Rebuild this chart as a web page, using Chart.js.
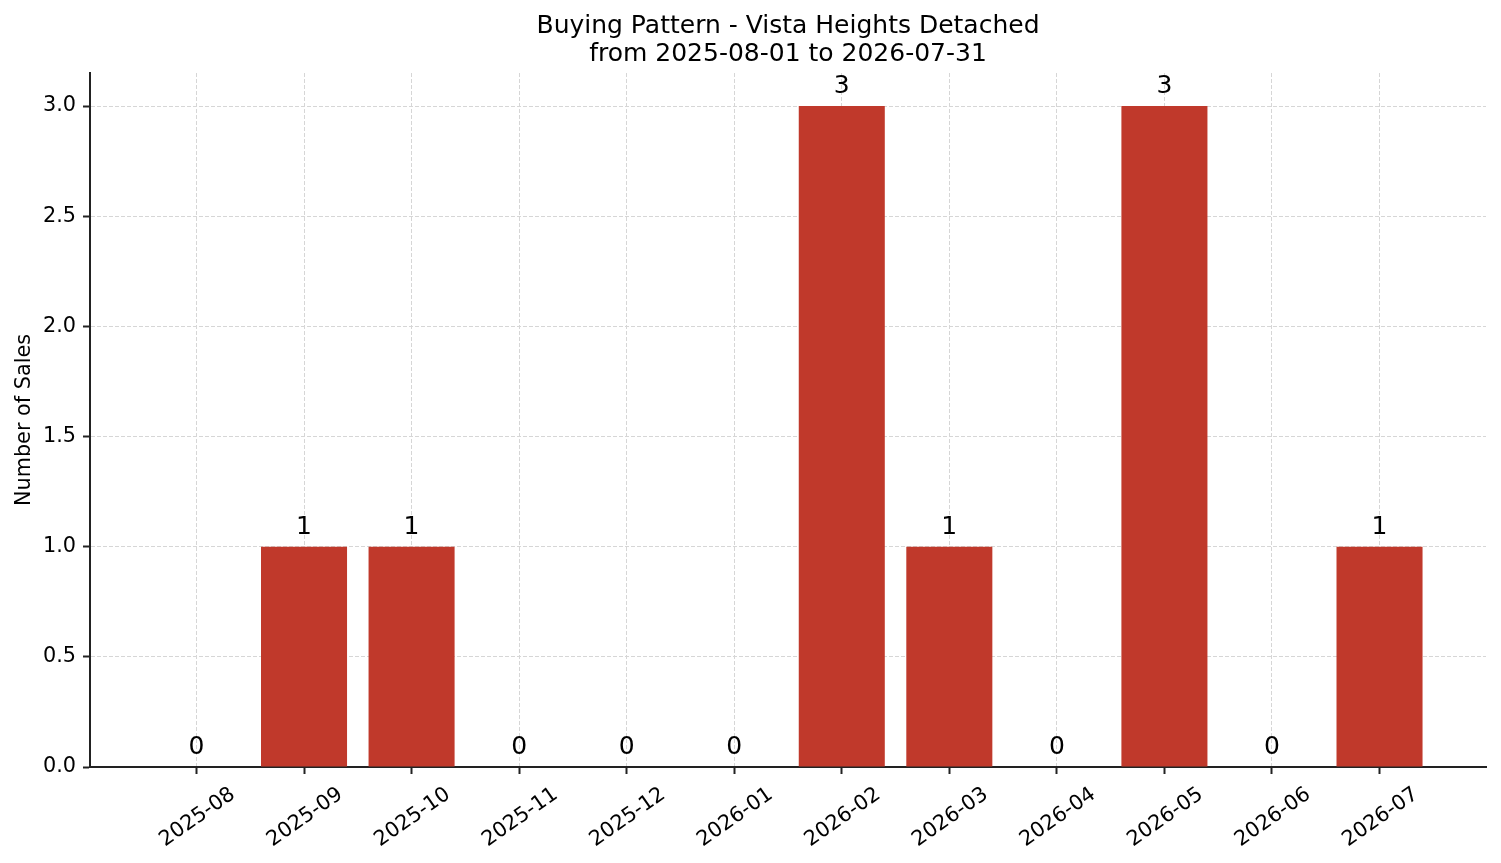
<!DOCTYPE html>
<html>
<head>
<meta charset="utf-8">
<script src="https://cdn.jsdelivr.net/npm/chart.js@4.4.1/dist/chart.umd.min.js"></script>
<style>
  html, body { margin: 0; padding: 0; background: #ffffff; }
  #wrap { width: 1501px; height: 863px; position: relative; }
</style>
</head>
<body>
<div id="wrap"><canvas id="c"></canvas></div>
<script>
const titleLines = ['Buying Pattern - Vista Heights Detached', 'from 2025-08-01 to 2026-07-31'];
const yAxisTitle = 'Number of Sales';
const categories = ['2025-08','2025-09','2025-10','2025-11','2025-12','2026-01','2026-02','2026-03','2026-04','2026-05','2026-06','2026-07'];
const sales = [0, 1, 1, 0, 0, 0, 3, 1, 0, 3, 0, 1];
const yTicks = [0, 0.5, 1.0, 1.5, 2.0, 2.5, 3.0];

const FONT = "'DejaVu Sans', sans-serif";
const FS = 20.8;
const LABEL_FS = 25;
const AXIS_COLOR = '#222222';
const GRID_COLOR = '#d6d6d6';

const barLabels = {
  id: 'barLabels',
  afterDraw(chart) {
    const ctx = chart.ctx;
    const meta = chart.getDatasetMeta(0);
    ctx.save();
    ctx.font = LABEL_FS + 'px ' + FONT;
    ctx.fillStyle = '#000';
    ctx.textAlign = 'center';
    ctx.textBaseline = 'alphabetic';
    meta.data.forEach((bar, i) => {
      ctx.fillText(String(sales[i]), bar.x, bar.y - 13);
    });
    ctx.restore();
  }
};

const rotatedXLabels = {
  id: 'rotatedXLabels',
  afterDraw(chart) {
    const ctx = chart.ctx;
    const xs = chart.scales.x;
    const ang = 35 * Math.PI / 180;
    const top = chart.chartArea.bottom + 7 + 7;
    ctx.save();
    ctx.font = FS + 'px ' + FONT;
    ctx.fillStyle = '#000';
    ctx.textAlign = 'center';
    ctx.textBaseline = 'alphabetic';
    categories.forEach((lab, i) => {
      const w = ctx.measureText(lab).width;
      const h = 1.164 * FS;
      const H = w * Math.sin(ang) + h * Math.cos(ang);
      const cx = xs.getPixelForValue(i);
      const cy = top + H / 2;
      ctx.save();
      ctx.translate(cx, cy);
      ctx.rotate(-ang);
      ctx.fillText(lab, 0, 0.346 * FS);
      ctx.restore();
    });
    ctx.restore();
  }
};

new Chart(document.getElementById('c'), {
  type: 'bar',
  data: {
    datasets: [{
      data: sales.map((v, i) => ({ x: i, y: v })),
      backgroundColor: '#c0392b',
      borderWidth: 0,
      barPercentage: 0.8,
      categoryPercentage: 1.0
    }]
  },
  options: {
    responsive: true,
    maintainAspectRatio: false,
    animation: false,
    devicePixelRatio: 1,
    layout: { padding: { left: 0, right: 15, top: 0, bottom: 0 } },
    plugins: {
      legend: { display: false },
      tooltip: { enabled: false },
      title: {
        display: true,
        fullSize: false,
        text: titleLines,
        color: '#000',
        font: { family: FONT, size: 25, weight: 'normal', lineHeight: 1.12 },
        padding: { top: 12, bottom: 5 }
      }
    },
    scales: {
      x: {
        type: 'linear',
        min: -0.99,
        max: 11.99,
        offset: false,
        z: 1,
        afterBuildTicks(scale) { scale.ticks = categories.map((_, i) => ({ value: i })); },
        afterFit(scale) { scale.height = 96; },
        ticks: { display: false },
        grid: {
          offset: false,
          color: GRID_COLOR,
          lineWidth: 1,
          drawTicks: true,
          tickLength: 7,
          tickColor: AXIS_COLOR,
          tickWidth: 2,
          tickBorderDash: []
        },
        border: { display: true, color: AXIS_COLOR, width: 2, dash: [4, 2] }
      },
      y: {
        type: 'linear',
        min: 0,
        max: 3.15,
        z: 1,
        afterBuildTicks(scale) { scale.ticks = yTicks.map(v => ({ value: v })); },
        afterFit(scale) { scale.width = 90; },
        ticks: {
          color: '#000',
          padding: 7,
          font: { family: FONT, size: FS },
          callback: v => Number(v).toFixed(1)
        },
        title: {
          display: true,
          text: yAxisTitle,
          color: '#000',
          font: { family: FONT, size: FS, lineHeight: 1.2 },
          padding: { top: 12, bottom: 0 }
        },
        grid: {
          color: GRID_COLOR,
          lineWidth: 1,
          drawTicks: true,
          tickLength: 7,
          tickColor: AXIS_COLOR,
          tickWidth: 2,
          tickBorderDash: []
        },
        border: { display: true, color: AXIS_COLOR, width: 2, dash: [4, 2] }
      }
    }
  },
  plugins: [barLabels, rotatedXLabels]
});
</script>
</body>
</html>
